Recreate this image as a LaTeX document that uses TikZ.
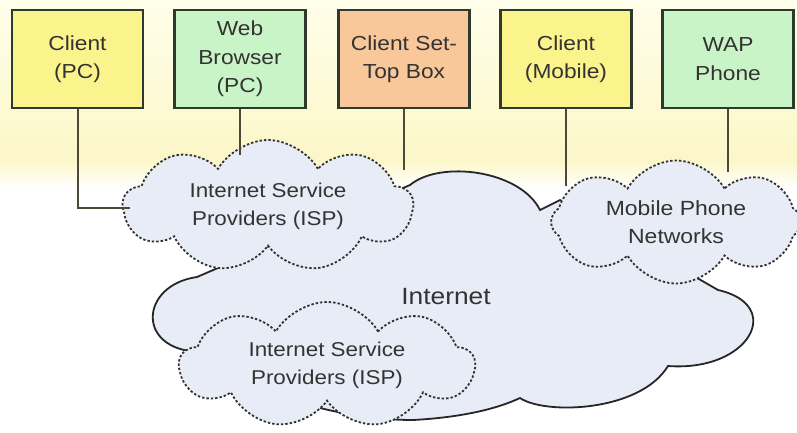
\documentclass[tikz,border=0pt]{standalone}
\usepackage{fontspec}
\setmainfont{Liberation Sans}[FakeStretch=1.12]
\usetikzlibrary{shapes.symbols}
\definecolor{bgtop}{HTML}{FFFEEA}
\definecolor{bgmid}{HTML}{FCF7C8}
\definecolor{boxyellow}{HTML}{FBF38C}
\definecolor{boxgreen}{HTML}{C9F4C7}
\definecolor{boxorange}{HTML}{F8C79A}
\definecolor{cloudfill}{HTML}{E7ECF6}
\definecolor{txt}{HTML}{333333}
\definecolor{linec}{HTML}{4A4A36}
\definecolor{edge}{HTML}{2E3A2E}
\tikzset{
  devbox/.style={draw=edge, line width=2.2pt, minimum width=131pt, minimum height=98pt,
    align=center, text=txt, font=\fontsize{20.3}{28.5}\selectfont, inner sep=0pt},
  netcloud/.style={cloud, cloud puffs=9, cloud puff arc=120, cloud ignores aspect,
    draw=txt, line width=1.8pt, dash pattern=on 2.4pt off 2pt, fill=cloudfill,
    align=center, text=txt, font=\fontsize{20}{28}\selectfont, inner sep=0pt},
  conn/.style={draw=linec, line width=2pt},
}
\begin{document}
\begin{tikzpicture}[x=1pt,y=-1pt]
\useasboundingbox (0,0) rectangle (797,432);
\fill[white] (0,0) rectangle (797,432);
\shade[top color=bgtop,bottom color=bgmid] (0,0) rectangle (797,160);
\shade[top color=bgmid,bottom color=white] (0,160) rectangle (797,188);

% Internet cloud
\draw[draw=black!85, line width=1.8pt, fill=cloudfill]
  (197,277) .. controls (140,285) and (135,350) .. (200,352)
  .. controls (260,400) and (350,420) .. (413,420)
  .. controls (450,418) and (490,412) .. (520,398)
  .. controls (545,415) and (640,412) .. (668,366)
  .. controls (750,372) and (785,305) .. (718,290)
  -- (640,245) -- (560,200) -- (540,210)
  .. controls (520,170) and (440,160) .. (410,185) -- cycle;
\node[text=txt, font=\fontsize{23.5}{30}\selectfont] (internet) at (446,297) {Internet};

% dashed clouds
\node[netcloud, minimum width=290pt, minimum height=132pt] (isp1) at (268,206)
  {Internet Service\\Providers (ISP)};
\node[netcloud, minimum width=295pt, minimum height=126pt] (isp2) at (327,365)
  {Internet Service\\Providers (ISP)};
\node[netcloud, cloud puffs=8, minimum width=250pt, minimum height=123pt,
  font=\fontsize{20.5}{28}\selectfont] (mob) at (676,222)
  {Mobile Phone\\Networks};

% boxes
\node[devbox, fill=boxyellow] (cpc) at (77.5,59) {Client\\(PC)};
\node[devbox, fill=boxgreen] (web) at (240,59) {Web\\Browser\\(PC)};
\node[devbox, fill=boxorange] (stb) at (404,59) {Client Set-\\Top Box};
\node[devbox, fill=boxyellow] (cmob) at (566,59) {Client\\(Mobile)};
\node[devbox, fill=boxgreen] (wap) at (728,59) {WAP\\Phone};

% connector ends
\coordinate (e1) at (130,208);
\coordinate (e2) at (240,155);
\coordinate (e3) at (404,170);
\coordinate (e4) at (566,186);
\coordinate (e5) at (728,172);

\draw[conn] (cpc.south) |- (e1);
\draw[conn] (web.south) -- (e2);
\draw[conn] (stb.south) -- (e3);
\draw[conn] (cmob.south) -- (e4);
\draw[conn] (wap.south) -- (e5);
\end{tikzpicture}
\end{document}
